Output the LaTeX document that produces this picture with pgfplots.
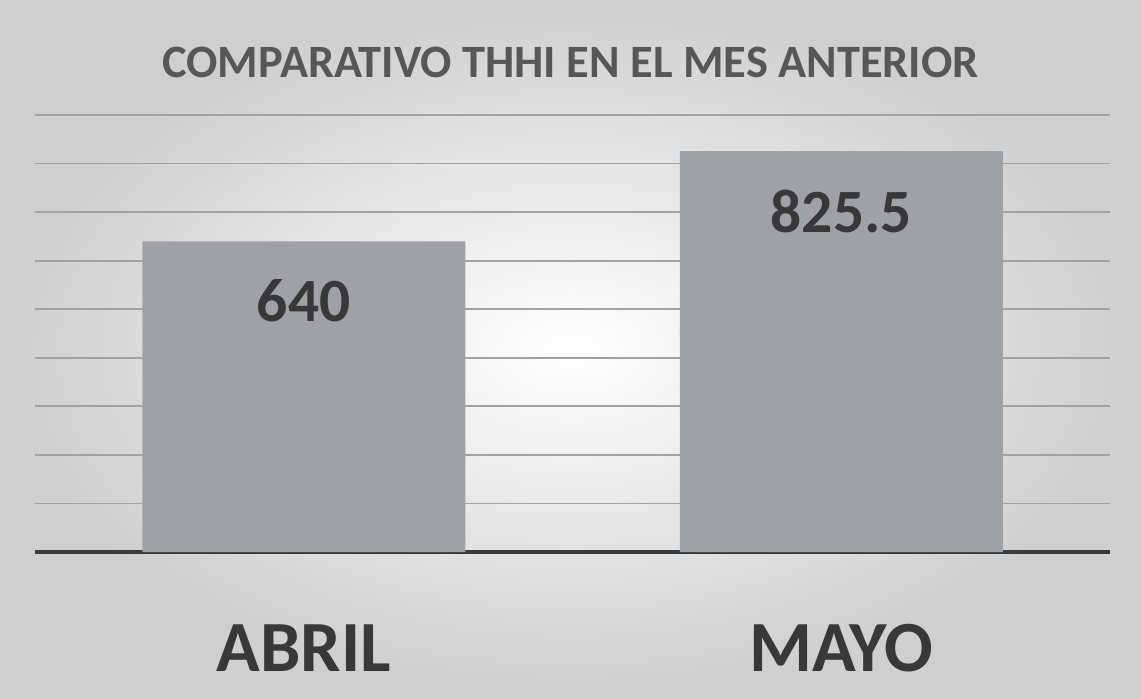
\documentclass[border=0pt]{standalone}
\usepackage{pgfplots}
\pgfplotsset{compat=1.18}
\usepackage{fontspec}
\setmainfont{Carlito}
\definecolor{barc}{HTML}{9FA1A4}
\definecolor{gridc}{HTML}{A2A2A2}
\definecolor{titlec}{HTML}{575757}
\definecolor{labc}{HTML}{383838}
\definecolor{basec}{HTML}{3A3A3A}
\begin{document}
\begin{tikzpicture}
\shade[inner color=white, outer color=gray!38] (0,0) rectangle (11.41cm,6.98cm);
\node[font=\fontsize{13.2}{15}\selectfont\bfseries, text=titlec] at (5.705cm,6.36cm) {COMPARATIVO THHI EN EL MES ANTERIOR};
\begin{axis}[
  at={(0.35cm,1.46cm)}, anchor=south west,
  scale only axis, width=10.75cm, height=4.37cm,
  xmin=-0.5, xmax=1.5, ymin=0, ymax=900,
  ytick={100,200,...,900}, yticklabels={},
  ymajorgrids, grid style={gridc, line width=0.5pt},
  extra y ticks={0}, extra y tick labels={},
  extra y tick style={grid style={basec, line width=1.3pt}},
  axis line style={draw=none},
  major tick length=0pt,
  xtick={0,1}, xticklabels={ABRIL,MAYO},
  xticklabel style={font=\fontsize{20.5}{23}\selectfont\bfseries, text=labc, yshift=-0.6cm},
  ybar, bar width=3.23cm,
  nodes near coords,
  point meta=explicit symbolic,
  every node near coord/.append style={anchor=north, inner sep=0pt, yshift=-0.38cm,
    font=\fontsize{17.5}{19}\selectfont\bfseries, text=labc},
]
\addplot[fill=barc, draw=none] coordinates {(0,640)[640] (1,825.5)[825.5]};
\end{axis}
\end{tikzpicture}
\end{document}
